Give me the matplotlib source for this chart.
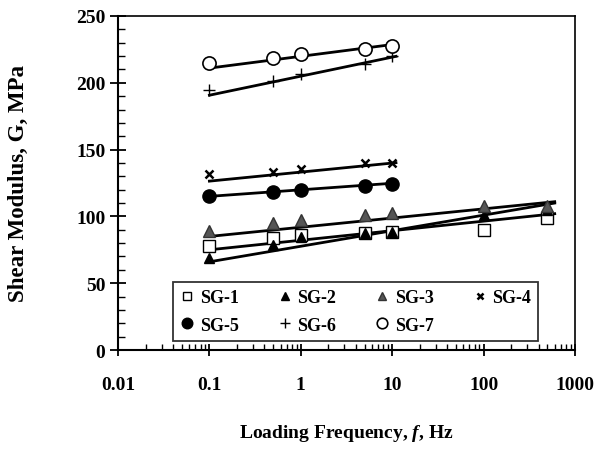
import matplotlib
matplotlib.use("Agg")
import matplotlib.pyplot as plt
from matplotlib.ticker import LogLocator, MultipleLocator, FixedLocator, FixedFormatter, NullFormatter

# ---- data ----
freq_short = [0.1, 0.5, 1, 5, 10]
freq_long = [0.1, 0.5, 1, 5, 10, 100, 500]

sg1 = [77.6, 83.8, 86.3, 87.6, 88.0, 90.0, 98.8]
sg2 = [68.8, 78.8, 84.6, 87.6, 88.5, 101.0, 105.0]
sg3 = [88.8, 95.0, 97.6, 101.3, 102.6, 107.6, 107.6]
sg4 = [131.4, 133.1, 135.6, 139.6, 139.6]
sg5 = [115.1, 118.1, 119.6, 123.1, 124.6]
sg6 = [194.7, 201.5, 206.5, 214.0, 219.8]
sg7 = [214.7, 218.5, 221.5, 225.2, 227.7]

# fitted trend lines (end points)
fit_freq_long = [0.1, 600]
fit_freq_short = [0.1, 11]
sg1_fit = [75.0, 102.0]
sg2_fit = [66.0, 110.0]
sg3_fit = [85.0, 111.0]
sg4_fit = [126.4, 140.2]
sg5_fit = [115.0, 125.0]
sg6_fit = [190.7, 219.8]
sg7_fit = [211.0, 229.0]

xtick_vals = [0.01, 0.1, 1, 10, 100, 1000]
xtick_labels = ["0.01", "0.1", "1", "10", "100", "1000"]
ytick_vals = [0, 50, 100, 150, 200, 250]

plt.rcParams['font.family'] = ['Liberation Serif', 'DejaVu Serif']
plt.rcParams['font.weight'] = 'bold'
plt.rcParams['mathtext.fontset'] = 'custom'
plt.rcParams['mathtext.rm'] = 'Liberation Serif:bold'
plt.rcParams['mathtext.it'] = 'Liberation Serif:italic:bold'
plt.rcParams['mathtext.bf'] = 'Liberation Serif:bold'

fig = plt.figure(figsize=(5.95, 4.52), dpi=100)
ax = fig.add_axes([118/595, 1-351/452, 457/595, 334/452])

lw = 2.0
for fx, fy in [(fit_freq_long, sg1_fit), (fit_freq_long, sg2_fit), (fit_freq_long, sg3_fit),
               (fit_freq_short, sg4_fit), (fit_freq_short, sg5_fit),
               (fit_freq_short, sg6_fit), (fit_freq_short, sg7_fit)]:
    ax.plot(fx, fy, color='black', lw=lw, zorder=2)

h1, = ax.plot(freq_long, sg1, ls='none', marker='s', ms=8, mfc='white', mec='black', mew=1.0, label='SG-1', zorder=3)
h2, = ax.plot(freq_long, sg2, ls='none', marker='^', ms=7, mfc='black', mec='black', label='SG-2', zorder=3)
h3, = ax.plot(freq_long, sg3, ls='none', marker='^', ms=8, mfc='#555555', mec='#333333', label='SG-3', zorder=3)
h4, = ax.plot(freq_short, sg4, ls='none', marker='x', ms=6, mec='black', mew=1.8, label='SG-4', zorder=3)
h5, = ax.plot(freq_short, sg5, ls='none', marker='o', ms=9.5, mfc='black', mec='black', label='SG-5', zorder=3)
h6, = ax.plot(freq_short, sg6, ls='none', marker='+', ms=9, mec='black', mew=1.0, label='SG-6', zorder=3)
h7, = ax.plot(freq_short, sg7, ls='none', marker='o', ms=9.5, mfc='white', mec='black', mew=1.2, label='SG-7', zorder=3)

ax.set_xscale('log')
ax.set_xlim(0.01, 1000)
ax.set_ylim(0, 250)

ax.xaxis.set_major_locator(FixedLocator(xtick_vals))
ax.xaxis.set_major_formatter(FixedFormatter(xtick_labels))
ax.xaxis.set_minor_locator(LogLocator(base=10, subs=range(2, 10), numticks=50))
ax.xaxis.set_minor_formatter(NullFormatter())
ax.yaxis.set_major_locator(FixedLocator(ytick_vals))
ax.yaxis.set_minor_locator(MultipleLocator(10))

ax.tick_params(axis='x', which='major', direction='inout', length=9, width=1.3, pad=14,
               labelsize=14, top=False)
ax.tick_params(axis='x', which='minor', direction='in', length=4, width=1.0, top=False)
ax.tick_params(axis='y', which='major', direction='inout', length=12, width=1.3, pad=3,
               labelsize=14, right=False)
ax.tick_params(axis='y', which='minor', direction='in', length=5, width=1.0, right=False)
for lab in ax.get_xticklabels() + ax.get_yticklabels():
    lab.set_fontweight('bold')

for s in ['left', 'bottom']:
    ax.spines[s].set_linewidth(1.5)
for s in ['top', 'right']:
    ax.spines[s].set_linewidth(1.2)

ax.set_xlabel('Loading Frequency, $\\mathit{f}$, Hz', fontsize=14, fontweight='bold')
ax.set_ylabel('Shear Modulus, G, MPa', fontsize=16.5, fontweight='bold')
ax.xaxis.set_label_coords(0.5, -0.215)
ax.yaxis.set_label_coords(-0.195, 0.5)

# column-major order so rows read SG-1..SG-4 / SG-5..SG-7
order = [h1, h5, h2, h6, h3, h7, h4]
leg = ax.legend(handles=order, labels=[h.get_label() for h in order],
                loc='lower left', bbox_to_anchor=(0.12, 0.027, 0.80, 0.19), mode='expand',
                ncol=4, frameon=True, fancybox=False, edgecolor='black',
                prop={'family': 'Liberation Serif', 'weight': 'bold', 'size': 13},
                handlelength=0.8, handletextpad=0.3, columnspacing=1.5,
                labelspacing=0.6, borderpad=0.4, borderaxespad=0)
leg.get_frame().set_linewidth(1.3)
for h in leg.legend_handles:
    h.set_markersize(h.get_markersize() * 0.8)

fig.savefig('out.png', dpi=100)
